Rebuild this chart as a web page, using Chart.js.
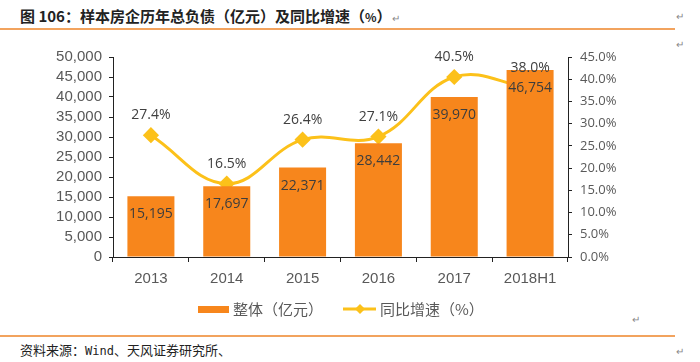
<!DOCTYPE html>
<html>
<head>
<meta charset="utf-8">
<script src="https://cdn.jsdelivr.net/npm/chart.js@4"></script>
<style>
  body { margin: 0; width: 700px; height: 362px; background: #fff; position: relative; overflow: hidden; font-family: "Noto Sans CJK SC", sans-serif; }
  #title { position: absolute; left: 20px; top: 5px; font-size: 15px; font-weight: bold; color: #222; white-space: nowrap; }
  .rule { position: absolute; left: 0; width: 675px; height: 2px; background: #f2a35e; }
  #source { position: absolute; left: 20px; top: 340px; font-size: 13px; color: #222; white-space: nowrap; }
  .mark { position: absolute; font-size: 10px; color: #888; }
  #wrap { position: absolute; left: 0; top: 40px; width: 700px; height: 290px; }
</style>
</head>
<body>
<div id="title">图 106：样本房企历年总负债（亿元）及同比增速（<span style="font-size:12px">%</span>）<span style="font-size:10px;font-weight:normal;color:#888">↵</span></div>
<div class="rule" style="top:28px"></div>
<div class="mark" style="left:676px;top:8px">↵</div>
<div class="mark" style="left:676px;top:36px">↵</div>
<div class="mark" style="left:632px;top:311px">↵</div>
<div class="rule" style="top:335px"></div>
<div class="mark" style="left:676px;top:343px">↵</div>
<div id="source">资料来源：<span style="font-family:'DejaVu Sans Mono';font-size:12px">Wind</span>、天风证券研究所、</div>
<div id="wrap"><canvas id="myChart"></canvas></div>
<script>
const categories = ["2013", "2014", "2015", "2016", "2017", "2018H1"];
const totalDebt = [15195, 17697, 22371, 28442, 39970, 46754];
const growthRate = [27.4, 16.5, 26.4, 27.1, 40.5, 38.0];
const leftTicks = [0, 5000, 10000, 15000, 20000, 25000, 30000, 35000, 40000, 45000, 50000];
const rightTicks = [0, 5, 10, 15, 20, 25, 30, 35, 40, 45];

const barColor = "#f7861c";
const lineColor = "#fcc11a";
const textColor = "#595959";

const valueLabels = {
    id: "valueLabels",
    afterDatasetsDraw(chart) {
        const ctx = chart.ctx;
        ctx.save();
        ctx.textAlign = "center";
        ctx.textBaseline = "middle";
        ctx.font = "14px 'Open Sans'";
        ctx.fillStyle = "#3d3d3d";
        chart.getDatasetMeta(0).data.forEach((bar, i) => {
            ctx.fillText(totalDebt[i].toLocaleString("en-US"), bar.x, bar.y + 18);
        });
        ctx.fillStyle = "#404040";
        chart.getDatasetMeta(1).data.forEach((pt, i) => {
            ctx.fillText(growthRate[i].toFixed(1) + "%", pt.x, pt.y - 20);
        });
        ctx.restore();
    }
};

// legend with a line + diamond sample, drawn by hand
const legendDraw = {
    id: "legendDraw",
    afterDraw(chart) {
        const ctx = chart.ctx;
        const y = 269;
        ctx.save();
        ctx.fillStyle = barColor;
        ctx.fillRect(198, y - 3, 31, 7);
        ctx.strokeStyle = lineColor;
        ctx.lineWidth = 3;
        ctx.beginPath();
        ctx.moveTo(343, y);
        ctx.lineTo(376, y);
        ctx.stroke();
        ctx.fillStyle = lineColor;
        ctx.beginPath();
        ctx.moveTo(360, y - 5);
        ctx.lineTo(365, y);
        ctx.lineTo(360, y + 5);
        ctx.lineTo(355, y);
        ctx.closePath();
        ctx.fill();
        ctx.font = "15px 'Noto Sans CJK SC'";
        ctx.fillStyle = textColor;
        ctx.textBaseline = "middle";
        ctx.fillText(chart.data.datasets[0].label, 233, y);
        ctx.fillText(chart.data.datasets[1].label, 380, y);
        ctx.restore();
    }
};

const charter = document.querySelector("#myChart");

const myChart = new Chart(charter, {
    data: {
        labels: categories,
        datasets: [
            {
                type: "bar",
                label: "整体（亿元）",
                data: totalDebt,
                backgroundColor: barColor,
                yAxisID: "y",
                categoryPercentage: 1,
                barPercentage: 0.62,
                order: 1
            },
            {
                type: "line",
                label: "同比增速（%）",
                data: growthRate,
                borderColor: lineColor,
                backgroundColor: lineColor,
                borderWidth: 3,
                pointStyle: "rectRot",
                pointRadius: 6,
                tension: 0.4,
                yAxisID: "y1",
                order: 2
            }
        ]
    },
    options: {
        responsive: true,
        maintainAspectRatio: false,
        animation: false,
        layout: { padding: { left: 0, right: 0, top: 17, bottom: 0 } },
        plugins: {
            legend: { display: false },
            tooltip: { enabled: false }
        },
        scales: {
            x: {
                grid: { drawOnChartArea: false, drawTicks: true, tickLength: 5, color: "#222", offset: true },
                border: { color: "#222", width: 1 },
                ticks: { color: textColor, font: { family: "Liberation Sans", size: 15 }, padding: 8 },
                afterFit: (scale) => { scale.height = 73; }
            },
            y: {
                position: "left",
                min: 0,
                max: 50000,
                afterBuildTicks: (scale) => { scale.ticks = leftTicks.map((v) => ({ value: v })); },
                grid: { drawOnChartArea: false, drawTicks: true, tickLength: 4, color: "#222" },
                border: { color: "#222", width: 1 },
                ticks: {
                    autoSkip: false,
                    color: textColor,
                    font: { family: "Liberation Sans", size: 15 },
                    padding: 7,
                    callback: (v) => v.toLocaleString("en-US")
                },
                afterFit: (scale) => { scale.width = 113; }
            },
            y1: {
                position: "right",
                min: 0,
                max: 45,
                afterBuildTicks: (scale) => { scale.ticks = rightTicks.map((v) => ({ value: v })); },
                grid: { drawOnChartArea: false, drawTicks: true, tickLength: 4, color: "#222" },
                border: { color: "#222", width: 1 },
                ticks: {
                    autoSkip: false,
                    color: textColor,
                    font: { family: "Open Sans", size: 13 },
                    padding: 8,
                    callback: (v) => v.toFixed(1) + "%"
                },
                afterFit: (scale) => { scale.width = 132; }
            }
        }
    },
    plugins: [valueLabels, legendDraw]
});
</script>
</body>
</html>
